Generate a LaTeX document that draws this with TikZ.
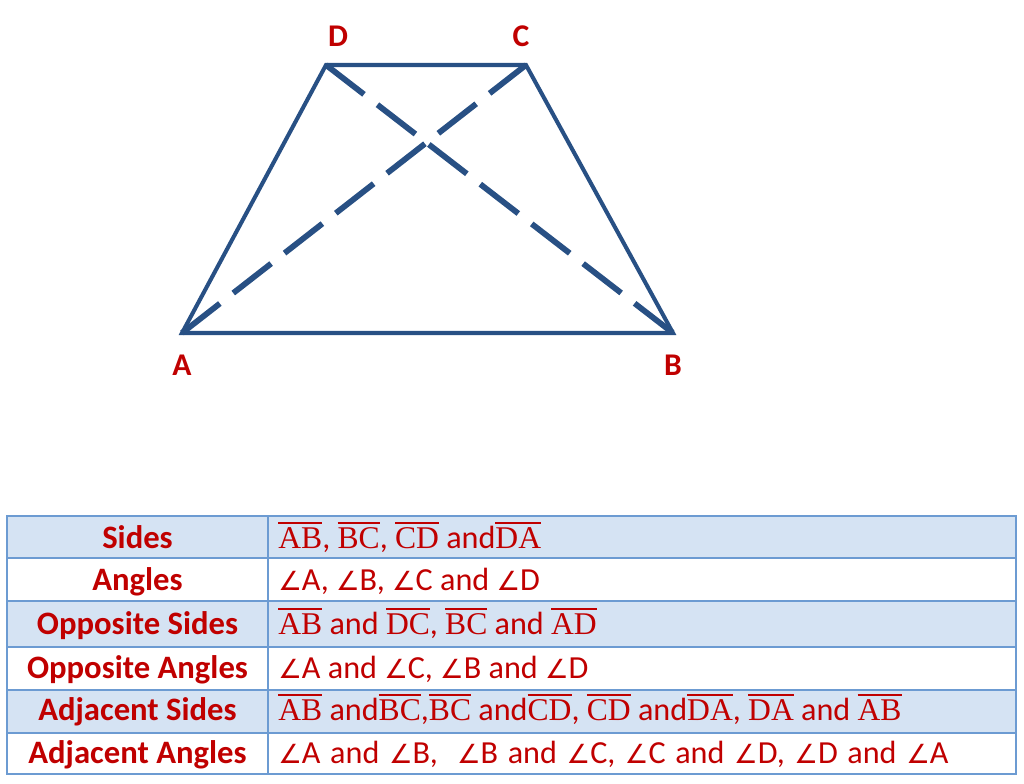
\documentclass[tikz,border=0pt]{standalone}
\usepackage{fontspec}
\setmainfont{Carlito}
\newfontfamily\segfont{Liberation Serif}
\newfontfamily\symfont{DejaVu Sans}
\usetikzlibrary{positioning}
\definecolor{linecol}{RGB}{40,80,132}
\definecolor{labred}{RGB}{192,0,0}
\definecolor{rowblue}{RGB}{213,227,243}
\definecolor{gridblue}{RGB}{108,155,210}
\newsavebox\segbox
\newcommand{\seg}[1]{\sbox\segbox{\segfont\fontsize{18}{20}\selectfont #1}%
  \rlap{\raisebox{\dimexpr\ht\segbox+1.6pt}{\rule{\wd\segbox}{1.1pt}}}\usebox\segbox}
\newcommand{\ang}[1]{{\symfont\fontsize{15}{16}\selectfont ∠}#1}

\begin{document}
\begin{tikzpicture}[
    x=0.02cm, y=-0.02cm,
    side/.style={draw=linecol, line width=2.3pt},
    diag/.style={draw=linecol, line width=3.3pt, dash pattern=on 0.96cm off 0.34cm},
    vlabel/.style={text=labred, font=\fontsize{18}{20}\selectfont\bfseries, inner sep=0pt},
    head/.style={text=labred, font=\fontsize{18.6}{20}\selectfont\bfseries, anchor=base, inner sep=0pt},
    entry/.style={text=labred, font=\fontsize{18.3}{20}\selectfont, anchor=base west, inner sep=0pt},
    grid/.style={draw=gridblue, line width=1.2pt}
]
    \useasboundingbox (0,0) rectangle (1024,784);

    % trapezium
    \coordinate (A) at (182,333);
    \coordinate (B) at (673,333);
    \coordinate (C) at (526,65);
    \coordinate (D) at (326,65);

    \draw[diag] (D) -- (B);
    \draw[diag] (A) -- (C);
    \draw[side] (A) -- (B) -- (C) -- (D) -- cycle;

    \node[vlabel, above=0.36cm of D, xshift=0.24cm] (lD) {D};
    \node[vlabel, above=0.36cm of C, xshift=-0.1cm] (lC) {C};
    \node[vlabel, below=0.44cm of A] (lA) {A};
    \node[vlabel, below=0.44cm of B] (lB) {B};

    % table
    \fill[rowblue] (7,516) rectangle (1016,558);
    \fill[rowblue] (7,601) rectangle (1016,647);
    \fill[rowblue] (7,690) rectangle (1016,733);
    \draw[grid] (7,516) rectangle (1016,774);
    \draw[grid] (268,516) -- (268,774);
    \draw[grid] (7,558) -- (1016,558) (7,601) -- (1016,601) (7,647) -- (1016,647)
        (7,690) -- (1016,690) (7,733) -- (1016,733);

    \node[head] (hSides) at (137.5,548) {Sides};
    \node[head] (hAngles) at (137.5,590) {Angles};
    \node[head] (hOppSides) at (137.5,634) {Opposite Sides};
    \node[head] (hOppAngles) at (137.5,678) {Opposite Angles};
    \node[head] (hAdjSides) at (137.5,720) {Adjacent Sides};
    \node[head] (hAdjAngles) at (137.5,763) {Adjacent Angles};

    \node[entry] (eSides) at (278,548) {\seg{AB}, \seg{BC}, \seg{CD} and\seg{DA}};
    \node[entry] (eAngles) at (278,590) {\ang{A}, \ang{B}, \ang{C} and \ang{D}};
    \node[entry] (eOppSides) at (278,634) {\seg{AB} and \seg{DC}, \seg{BC} and \seg{AD}};
    \node[entry] (eOppAngles) at (278,678) {\ang{A} and \ang{C}, \ang{B} and \ang{D}};
    \node[entry] (eAdjSides) at (278,720) {\seg{AB} and\seg{BC},\seg{BC} and\seg{CD}, \seg{CD} and\seg{DA}, \seg{DA} and \seg{AB}};
    \node[entry] (eAdjAngles) at (278,763) {\spaceskip=0.3em\relax \ang{A} and \ang{B}, \ \ang{B} and \ang{C}, \ang{C} and \ang{D}, \ang{D} and \ang{A}};
\end{tikzpicture}
\end{document}
